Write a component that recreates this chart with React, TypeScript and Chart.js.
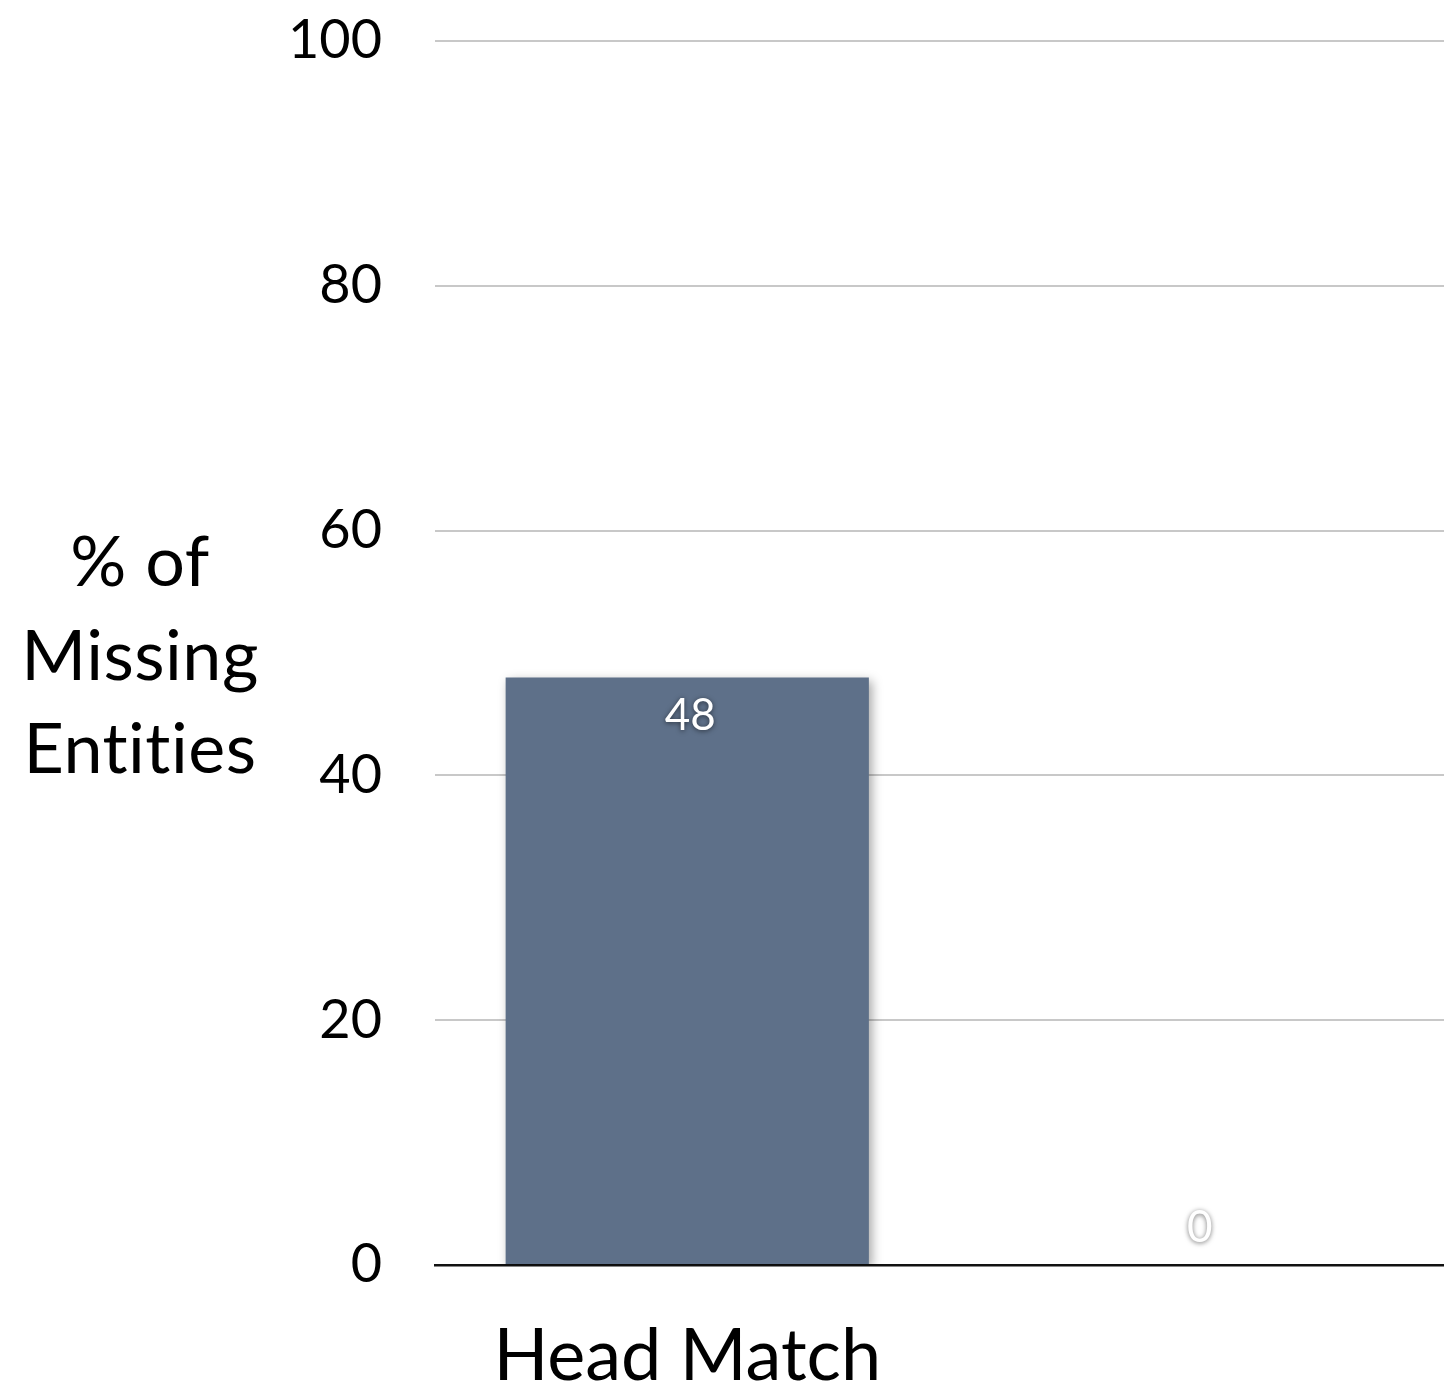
import React, { useEffect, useRef } from "react";
import { Chart, registerables } from "chart.js";

Chart.register(...registerables);

const categories = ["Head Match", ""];
const values = [48, 0];
const yTicks = [0, 20, 40, 60, 80, 100];
const yTitleLines = ["% of", "Missing", "Entities"];

const FONT = "Lato, 'Open Sans', sans-serif";

const titlePlugin = {
  id: "leftTitle",
  afterDraw(chart: any) {
    const ctx = chart.ctx;
    ctx.save();
    ctx.fillStyle = "#000";
    ctx.font = `70px ${FONT}`;
    try { (ctx as any).letterSpacing = "0.5px"; } catch (e) {}
    ctx.textAlign = "center";
    ctx.textBaseline = "middle";
    const cx = 140;
    const ys = [563, 657, 750];
    yTitleLines.forEach((t, i) => ctx.fillText(t, cx, ys[i]));
    ctx.restore();
  },
};

const shadowPlugin = {
  id: "barShadow",
  beforeDatasetsDraw(chart: any) {
    const ctx = chart.ctx;
    ctx.save();
    ctx.shadowColor = "rgba(0,0,0,0.35)";
    ctx.shadowBlur = 10;
    ctx.shadowOffsetX = 3;
    ctx.shadowOffsetY = 4;
  },
  afterDatasetsDraw(chart: any) {
    chart.ctx.restore();
  },
};

const labelPlugin = {
  id: "valueLabels",
  afterDatasetsDraw(chart: any) {
    const ctx = chart.ctx;
    const meta = chart.getDatasetMeta(0);
    const yScale = chart.scales.y;
    ctx.save();
    ctx.font = `44px ${FONT}`;
    ctx.textAlign = "center";
    ctx.textBaseline = "middle";
    meta.data.forEach((bar: any, i: number) => {
      const v = values[i];
      const base = yScale.getPixelForValue(0);
      const y = v > 0 ? bar.y + 38 : base - 37;
      ctx.shadowColor = "rgba(0,0,0,0.55)";
      ctx.shadowBlur = 5;
      ctx.shadowOffsetX = 0;
      ctx.shadowOffsetY = 1;
      ctx.fillStyle = "#ffffff";
      ctx.fillText(String(v), bar.x + (v > 0 ? 3 : 8), y);
    });
    ctx.restore();
  },
};

export default function App() {
  const ref = useRef<HTMLCanvasElement>(null);
  useEffect(() => {
    if (!ref.current) return;
    const chart = new Chart(ref.current, {
      type: "bar",
      data: {
        labels: categories,
        datasets: [
          {
            data: values,
            backgroundColor: "#5e7089",
            borderWidth: 0,
            categoryPercentage: 1,
            barPercentage: 0.72,
          },
        ],
      },
      options: {
        responsive: false,
        animation: false,
        layout: { padding: { top: 41, left: 0, right: 0, bottom: 0 } },
        plugins: {
          legend: { display: false },
          tooltip: { enabled: false },
        },
        scales: {
          x: {
            grid: { display: false, drawTicks: false },
            border: { display: true, color: "#111", width: 2.5 },
            ticks: {
              color: "#000",
              font: { family: FONT, size: 72 },
              padding: 49,
              maxRotation: 0,
            },
            afterFit(scale: any) {
              scale.height = 1388 - 1265;
              scale.paddingLeft = 0;
              scale.paddingRight = 0;
            },
          },
          y: {
            min: 0,
            max: 100,
            afterBuildTicks(scale: any) {
              scale.ticks = yTicks.map((v) => ({ value: v }));
            },
            grid: {
              color: "#c8c8c8",
              lineWidth: 2,
              drawTicks: false,
            },
            border: { display: false },
            ticks: {
              color: "#000",
              font: { family: FONT, size: 54 },
              padding: 53,
            },
            afterFit(scale: any) {
              scale.width = 435;
              scale.paddingTop = 0;
              scale.paddingBottom = 0;
            },
          },
        },
      },
      plugins: [shadowPlugin, labelPlugin, titlePlugin],
    } as any);
    return () => chart.destroy();
  }, []);
  return (
    <div style={{ position: "absolute", left: 0, top: 0, width: 1444, height: 1388, background: "#fff" }}>
      <canvas ref={ref} width={1444} height={1388} style={{ display: "block" }} />
    </div>
  );
}
